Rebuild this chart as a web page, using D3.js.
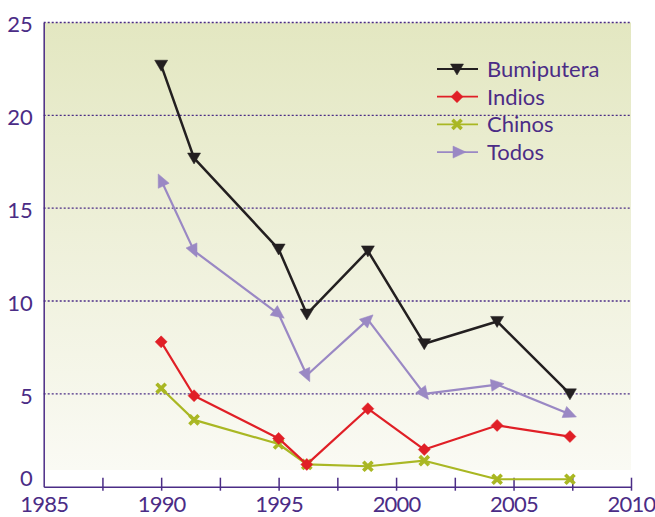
<!DOCTYPE html>
<html>
<head>
<meta charset="utf-8">
<script src="https://cdn.jsdelivr.net/npm/d3@7"></script>
<style>
  body { margin: 0; background: #fff; }
  svg text { font-family: Lato, "Noto Sans", sans-serif; fill: #4b2c86; }
</style>
</head>
<body>
<div id="chart"></div>
<script>
// chart data
var years = [1990, 1991.4, 1995, 1996.2, 1998.8, 2001.2, 2004.3, 2007.4];
var bumiputera = [22.7, 17.7, 12.8, 9.3, 12.7, 7.7, 8.9, 5.0];
var indios = [7.8, 4.9, 2.6, 1.2, 4.2, 2.0, 3.3, 2.7];
var chinos = [5.3, 3.6, 2.3, 1.2, 1.1, 1.4, 0.4, 0.4];
var todos = [16.5, 12.7, 9.3, 6.0, 9.0, 5.0, 5.5, 3.9];
var seriesNames = ['Bumiputera', 'Indios', 'Chinos', 'Todos'];
var yTicks = [0, 5, 10, 15, 20, 25];
var xTicks = [1985, 1987.5, 1990, 1992.5, 1995, 1997.5, 2000, 2002.5, 2005, 2007.5, 2010];

var width = 655, height = 517;
var plotLeft = 43.7, plotRight = 631, plotTop = 22.5, plotBottom = 486.7;
var purple = '#4b2c86';

var svg = d3.select('#chart').append('svg').attr('width', width).attr('height', height);

var x = d3.scaleLinear().domain([1985, 2010]).range([plotLeft, plotRight]);
var y = d3.scaleLinear().domain([0, 25]).range([plotBottom, plotTop]);

// background gradient
var grad = svg.append('defs').append('linearGradient')
   .attr('id', 'bg').attr('x1', 0).attr('y1', 0).attr('x2', 0).attr('y2', 1);
grad.append('stop').attr('offset', '0%').attr('stop-color', '#e3e7c1');
grad.append('stop').attr('offset', '100%').attr('stop-color', '#fafaf4');

svg.append('rect')
   .attr('x', plotLeft).attr('y', plotTop)
   .attr('width', plotRight - plotLeft).attr('height', 470 - plotTop)
   .attr('fill', 'url(#bg)');

// dotted gridlines
svg.selectAll('line.grid')
   .data(yTicks.filter(function(d) { return d > 0; }))
   .enter()
   .append('line')
   .attr('class', 'grid')
   .attr('x1', plotLeft).attr('x2', plotRight)
   .attr('y1', function(d) { return y(d); })
   .attr('y2', function(d) { return y(d); })
   .attr('stroke', purple).attr('stroke-width', 1.3)
   .attr('stroke-dasharray', '2,2');

// y axis
var yAxis = svg.append('g')
   .attr('transform', 'translate(' + plotLeft + ',0)')
   .call(d3.axisLeft(y).tickValues(yTicks).tickSize(0).tickPadding(11));
yAxis.select('.domain').attr('stroke', purple).attr('stroke-width', 1.5);
yAxis.selectAll('text')
   .style('font-size', '22px')
   .attr('dy', function(d) { return d === 0 ? '-0.05em' : '0.42em'; });

// x axis
var xAxis = svg.append('g')
   .attr('transform', 'translate(0,' + plotBottom + ')')
   .call(d3.axisBottom(x).tickValues(xTicks).tickSizeInner(4).tickSizeOuter(0).tickPadding(6)
      .tickFormat(function(d) { return d % 5 === 0 ? d : ''; }));
xAxis.select('.domain').attr('stroke', purple).attr('stroke-width', 1.5);
xAxis.selectAll('.tick line').attr('stroke', purple).attr('stroke-width', 1.5).attr('y1', -9);
xAxis.selectAll('.tick').filter(function(d) { return d === 1985; }).select('line').remove();
xAxis.selectAll('text').style('font-size', '22px').style('letter-spacing', '-0.8px');

// series definitions
var series = [
   { name: seriesNames[0], values: bumiputera, color: '#231f20', width: 2.5, marker: 'down' },
   { name: seriesNames[1], values: indios, color: '#e01f26', width: 2.2, marker: 'diamond' },
   { name: seriesNames[2], values: chinos, color: '#a9b723', width: 2.2, marker: 'cross' },
   { name: seriesNames[3], values: todos, color: '#9a88c4', width: 2.2, marker: 'arrow' }
];

var line = d3.line()
   .x(function(d) { return x(d[0]); })
   .y(function(d) { return y(d[1]); });

function markerPath(type) {
   if (type === 'down') return 'M-6.5,-5L6.5,-5L0,6Z';
   if (type === 'diamond') return 'M0,-6L6,0L0,6L-6,0Z';
   if (type === 'cross') return 'M-5,-3.3L-3.3,-5L0,-1.7L3.3,-5L5,-3.3L1.7,0L5,3.3L3.3,5L0,1.7L-3.3,5L-5,3.3L-1.7,0Z';
   return 'M7,0L-6,-6L-6,6Z';
}

function drawMarkers(g, s, pts) {
   g.selectAll('path.mk')
      .data(pts)
      .enter()
      .append('path')
      .attr('class', 'mk')
      .attr('d', markerPath(s.marker))
      .attr('fill', s.color)
      .attr('stroke', s.color)
      .attr('stroke-width', s.marker === 'cross' ? 1.2 : 0.5)
      .attr('transform', function(d, i) {
         var t = 'translate(' + x(d[0]) + ',' + y(d[1]) + ')';
         if (s.marker === 'arrow') {
            var a = i > 0 ? pts[i - 1] : pts[1];
            var b = i > 0 ? d : pts[0];
            var ang = Math.atan2(y(b[1]) - y(a[1]), x(b[0]) - x(a[0])) * 180 / Math.PI;
            t += ' rotate(' + ang + ')';
         }
         return t;
      });
}

// draw back to front: Chinos, Indios, Todos, Bumiputera
[2, 1, 3, 0].forEach(function(k) {
   var s = series[k];
   var pts = years.map(function(yr, i) { return [yr, s.values[i]]; });
   var g = svg.append('g');
   g.append('path')
      .datum(pts)
      .attr('d', line)
      .attr('fill', 'none')
      .attr('stroke', s.color)
      .attr('stroke-width', s.width)
      .attr('stroke-linejoin', 'round');
   drawMarkers(g, s, pts);
});

// legend
var legend = svg.append('g').attr('transform', 'translate(437,69)');
series.forEach(function(s, i) {
   var row = legend.append('g').attr('transform', 'translate(0,' + (i * 27.7) + ')');
   row.append('line')
      .attr('x1', 0).attr('x2', 41)
      .attr('stroke', s.color).attr('stroke-width', s.width - 0.4);
   row.append('path')
      .attr('d', markerPath(s.marker))
      .attr('transform', 'translate(' + (s.marker === 'arrow' ? 22 : 20) + ',0)')
      .attr('fill', s.color)
      .attr('stroke', s.color)
      .attr('stroke-width', s.marker === 'cross' ? 1.2 : 0.5);
   row.append('text')
      .attr('x', 50).attr('dy', '0.36em')
      .style('font-size', '22px')
      .text(s.name);
});
</script>
</body>
</html>
